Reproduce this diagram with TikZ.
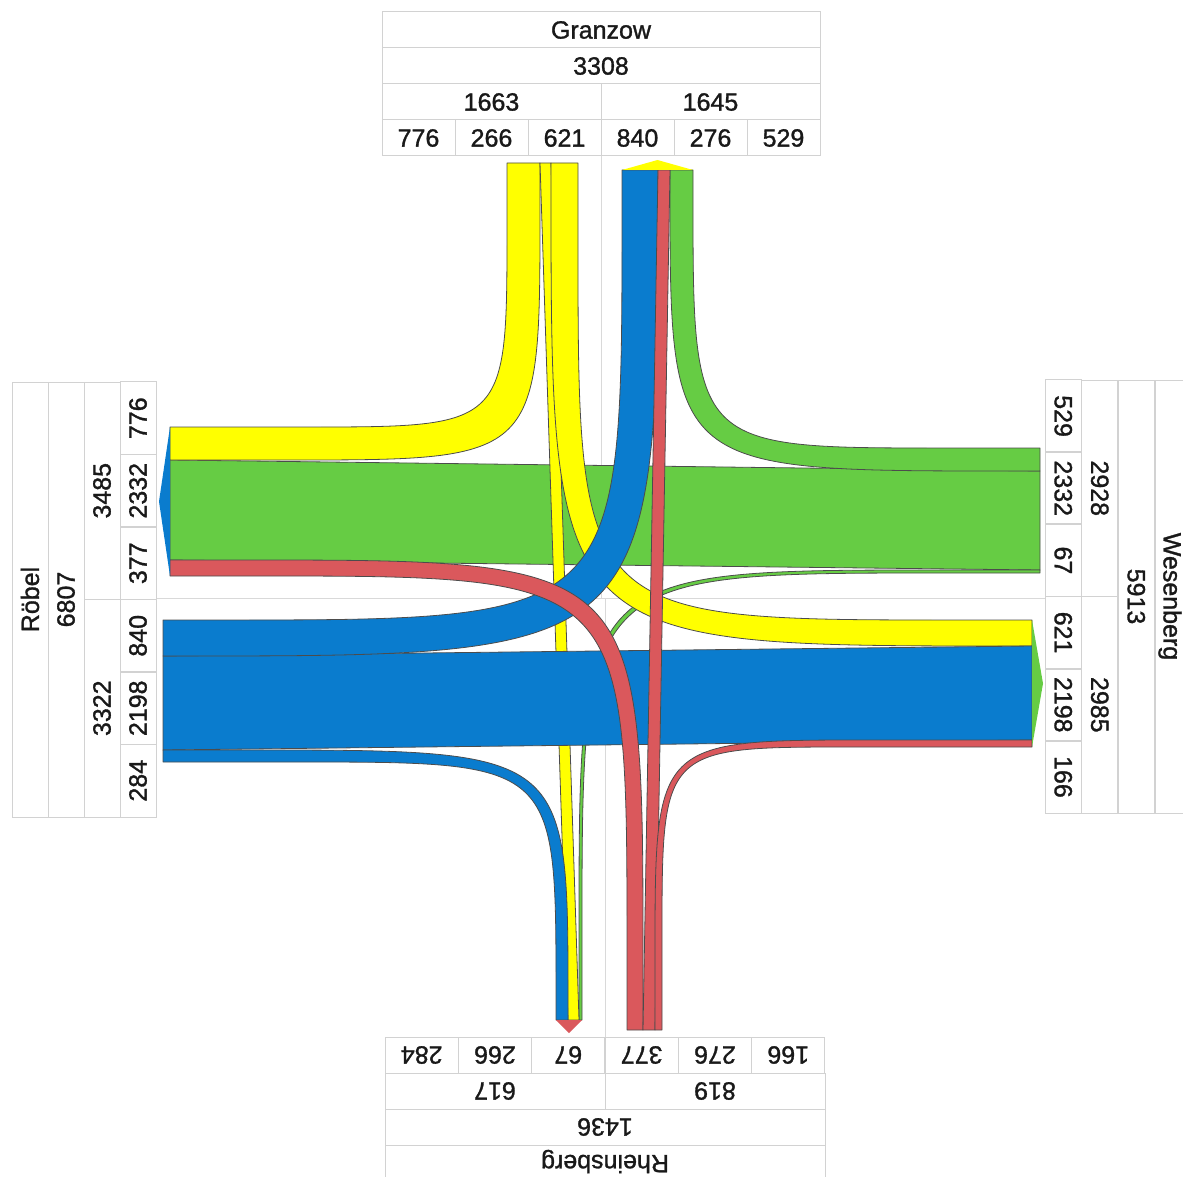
\documentclass[tikz,border=0pt]{standalone}
\usepackage{fontspec}
\setmainfont{Liberation Sans}[FakeBold=1.2]
\usepackage{xcolor}
\usetikzlibrary{positioning}
\definecolor{gelb}{RGB}{255,255,0}
\definecolor{gruen}{RGB}{102,204,68}
\definecolor{blau}{RGB}{10,124,206}
\definecolor{rot}{RGB}{218,88,92}
\tikzset{
  node distance=0pt,
  cell/.style={draw=gray!35, line width=1pt, inner sep=0pt, outer sep=0pt,
               minimum width=73pt, minimum height=36pt, text=black!90,
               font=\fontsize{25}{30}\selectfont},
  band/.style={draw=black!70, line width=0.8pt, line join=round},
  axis/.style={draw=gray!30, line width=1pt}
}

\begin{document}
\begin{tikzpicture}[x=1pt,y=-1pt]
          \useasboundingbox (0,0) rectangle (1183,1177);

          % centre lines of the arms
          \draw[axis] (157,598) -- (1045,598);
          \draw[axis] (601,156) -- (601,598);
          \draw[axis] (605,598) -- (605,1037);

          \begin{scope}[every path/.style={band}]
              % from Wesenberg
              \filldraw[fill=gruen] (1040,471) -- (170,460) -- (170,560) -- (1040,570) -- cycle;
              \filldraw[fill=gruen] (1040,471) -- (1010,471) .. controls (670,471) and (670,471) .. (670,191)
                  -- (670,170) -- (693,170) -- (693,198) .. controls (693,448) and (693,448) .. (943,448) -- (1040,448) -- cycle;
              \filldraw[fill=gruen] (1040,570) -- (939,570) .. controls (579,570) and (579,570) .. (579,930)
                  -- (579,1020) -- (582,1020) -- (582,933) .. controls (582,573) and (582,573) .. (942,573) -- (1040,573) -- cycle;

              % from Granzow
              \filldraw[fill=gelb] (507,163) -- (507,227) .. controls (507,427) and (507,427) .. (307,427)
                  -- (170,427) -- (170,460) -- (290,460) .. controls (540,460) and (540,460) .. (540,210) -- (540,163) -- cycle;
              \filldraw[fill=gelb] (540,163) -- (568,1020) -- (579,1020) -- (551,163) -- cycle;
              \filldraw[fill=gelb] (551,163) -- (551,186) .. controls (551,646) and (551,646) .. (1011,646)
                  -- (1032,646) -- (1032,620) -- (958,620) .. controls (578,620) and (578,620) .. (578,240) -- (578,163) -- cycle;

              % from Roebel
              \filldraw[fill=blau] (163,656) -- (1032,646) -- (1032,740) -- (163,750) -- cycle;
              \filldraw[fill=blau] (163,750) -- (248,750) .. controls (568,750) and (568,750) .. (568,1000)
                  -- (568,1020) -- (556,1020) -- (556,992) .. controls (556,762) and (556,762) .. (296,762) -- (163,762) -- cycle;
              \filldraw[fill=blau] (163,620) -- (222,620) .. controls (622,620) and (622,620) .. (622,220)
                  -- (622,170) -- (658,170) -- (658,176) .. controls (658,656) and (658,656) .. (178,656) -- (163,656) -- cycle;

              % from Rheinsberg
              \filldraw[fill=rot] (627,1030) -- (627,946) .. controls (627,576) and (627,576) .. (257,576)
                  -- (170,576) -- (170,560) -- (243,560) .. controls (643,560) and (643,560) .. (643,960) -- (643,1030) -- cycle;
              \filldraw[fill=rot] (643,1030) -- (658,170) -- (670,170) -- (655,1030) -- cycle;
              \filldraw[fill=rot] (655,1030) -- (655,955) .. controls (655,740) and (655,740) .. (870,740)
                  -- (1032,740) -- (1032,747) -- (852,747) .. controls (662,747) and (662,747) .. (662,937) -- (662,1030) -- cycle;
          \end{scope}

          % exit marks
          \fill[gelb] (622,170) -- (657.5,160) -- (693,170) -- cycle;
          \fill[blau] (170,427) -- (159,501.5) -- (170,576) -- cycle;
          \fill[gruen] (1032,620) -- (1043,683.5) -- (1032,747) -- cycle;
          \fill[rot] (556,1020) -- (569,1033) -- (582,1020) -- cycle;

          % Granzow
          \node[cell] (g776) at (418.5,138) {776};
          \node[cell, right=of g776] (g266) {266};
          \node[cell, right=of g266] (g621) {621};
          \node[cell, right=of g621] (g840) {840};
          \node[cell, right=of g840] (g276) {276};
          \node[cell, right=of g276] (g529) {529};
          \node[cell, minimum width=219pt, above=of g266] (g1663) {1663};
          \node[cell, minimum width=219pt, above=of g276] (g1645) {1645};
          \node[cell, minimum width=438pt] (g3308) at (601,66) {3308};
          \node[cell, minimum width=438pt] (granzow) at (601,30) {Granzow};

          % Roebel
          \begin{scope}[every node/.append style={rotate=90, minimum width=72.5pt}]
              \node[cell] (r776)  at (138,418.25) {776};
              \node[cell] (r2332) at (138,490.75) {2332};
              \node[cell] (r377)  at (138,563.25) {377};
              \node[cell] (r840)  at (138,635.75) {840};
              \node[cell] (r2198) at (138,708.25) {2198};
              \node[cell] (r284)  at (138,780.75) {284};
              \node[cell, minimum width=217.5pt] (r3485) at (102,490.75) {3485};
              \node[cell, minimum width=217.5pt] (r3322) at (102,708.25) {3322};
              \node[cell, minimum width=435pt] (r6807) at (66,599.5) {6807};
              \node[cell, minimum width=435pt] (roebel) at (30,599.5) {Röbel};
          \end{scope}

          % Wesenberg
          \begin{scope}[every node/.append style={rotate=-90, minimum width=72.2pt, minimum height=36.5pt}]
              \node[cell] (w529)  at (1063.25,416.1) {529};
              \node[cell] (w2332) at (1063.25,488.3) {2332};
              \node[cell] (w67)   at (1063.25,560.4) {67};
              \node[cell] (w621)  at (1063.25,632.6) {621};
              \node[cell] (w2198) at (1063.25,704.8) {2198};
              \node[cell] (w166)  at (1063.25,776.9) {166};
              \node[cell, minimum width=216.5pt] (w2928) at (1099.75,488.3) {2928};
              \node[cell, minimum width=216.5pt] (w2985) at (1099.75,704.8) {2985};
              \node[cell, minimum width=433pt] (w5913) at (1136.25,596.5) {5913};
              \node[cell, minimum width=433pt, minimum height=30pt] (wesenberg) at (1170,596.5) {Wesenberg};
          \end{scope}

          % Rheinsberg
          \begin{scope}[every node/.append style={rotate=180, minimum width=73.33pt}]
              \node[cell] (s284) at (421.7,1055) {284};
              \node[cell] (s266) at (495,1055) {266};
              \node[cell] (s67)  at (568.3,1055) {67};
              \node[cell] (s377) at (641.7,1055) {377};
              \node[cell] (s276) at (715,1055) {276};
              \node[cell] (s166) at (788.3,1055) {166};
              \node[cell, minimum width=220pt] (s617) at (495,1091) {617};
              \node[cell, minimum width=220pt] (s819) at (715,1091) {819};
              \node[cell, minimum width=440pt] (s1436) at (605,1127) {1436};
              \node[cell, minimum width=440pt, minimum height=33pt] (rheinsberg) at (605,1161.5) {Rheinsberg};
          \end{scope}
\end{tikzpicture}
\end{document}
